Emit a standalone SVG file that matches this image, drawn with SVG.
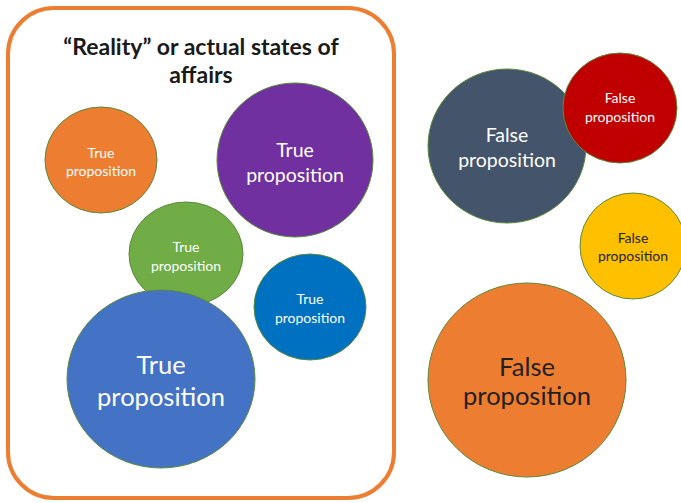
<svg xmlns="http://www.w3.org/2000/svg" width="681" height="503" viewBox="0 0 681 503">
<style>
.c{stroke:#5b8a3a;stroke-width:1}
.t{font-family:Lato,"Open Sans","DejaVu Sans",sans-serif;text-anchor:middle;dominant-baseline:central}
.w{fill:#ffffff}
.d{fill:#1f1f1f}
.s{font-size:14px}
.m{font-size:19.5px}
.l{font-size:25.5px}
</style>
<rect width="681" height="503" fill="#ffffff"/>
<g id="reality">
<rect x="8" y="8" width="386" height="490" rx="46" ry="46" fill="none" stroke="#ED7D31" stroke-width="4"/>
<text class="t" x="201" y="46" font-size="23" font-weight="bold" fill="#1a1a1a">“Reality” or actual states of</text>
<text class="t" x="201" y="74" font-size="23" font-weight="bold" fill="#1a1a1a">affairs</text>
</g>
<g id="t1">
<ellipse class="c" cx="101" cy="160" rx="56" ry="53" fill="#ED7D31"/>
<text class="t w s" x="101" y="152">True</text>
<text class="t w s" x="101" y="170">proposition</text>
</g>
<g id="t2">
<ellipse class="c" cx="295" cy="160" rx="78" ry="77" fill="#7030A0"/>
<text class="t w m" x="295" y="149">True</text>
<text class="t w m" x="295" y="174">proposition</text>
</g>
<g id="t3">
<ellipse class="c" cx="186" cy="254" rx="57" ry="52" fill="#70AD47"/>
<text class="t w s" x="186" y="246">True</text>
<text class="t w s" x="186" y="265">proposition</text>
</g>
<g id="t4">
<ellipse class="c" cx="310" cy="307" rx="56" ry="53" fill="#0070C0"/>
<text class="t w s" x="310" y="298">True</text>
<text class="t w s" x="310" y="317">proposition</text>
</g>
<g id="t5">
<ellipse class="c" cx="161" cy="379" rx="94" ry="89" fill="#4472C4"/>
<text class="t w l" x="161" y="364">True</text>
<text class="t w l" x="161" y="396">proposition</text>
</g>
<g id="f1">
<ellipse class="c" cx="507" cy="146" rx="79" ry="77" fill="#44546A"/>
<text class="t w m" x="507" y="134">False</text>
<text class="t w m" x="507" y="159">proposition</text>
</g>
<g id="f2">
<ellipse class="c" cx="620" cy="108" rx="57" ry="55" fill="#C00000"/>
<text class="t w s" x="620" y="97">False</text>
<text class="t w s" x="620" y="116">proposition</text>
</g>
<g id="f3">
<ellipse class="c" cx="633" cy="246" rx="53" ry="53" fill="#FFC000"/>
<text class="t d s" x="633" y="237">False</text>
<text class="t d s" x="633" y="255">proposition</text>
</g>
<g id="f4">
<ellipse class="c" cx="527" cy="380" rx="99" ry="97" fill="#ED7D31"/>
<text class="t d l" x="527" y="366">False</text>
<text class="t d l" x="527" y="395">proposition</text>
</g>
<g id="connectors"></g>
</svg>
